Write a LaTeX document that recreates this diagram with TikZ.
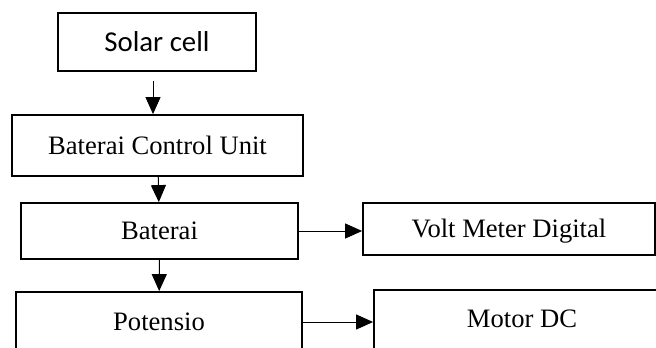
\documentclass[tikz,border=0pt]{standalone}
\usepackage{fontspec}
\setmainfont{Liberation Serif}
\newfontfamily\calibrifont{Carlito}
\usetikzlibrary{arrows.meta}

\begin{document}
\begin{tikzpicture}[x=0.5pt,y=-0.5pt,
		blok/.style={draw,line width=0.9pt,inner sep=0pt,font=\fontsize{13.3}{15}\selectfont},
		panah/.style={line width=0.5pt,-{Triangle[length=8.5pt,width=7.5pt]}}]
				\clip (0,0) rectangle (656,347);
				
				% left column
				\node[blok,minimum width=99pt,minimum height=29pt,font=\calibrifont\fontsize{14.4}{16}\selectfont] (solar) at (157,42) {Solar cell};
				\node[blok,minimum width=145.5pt,minimum height=30.5pt] (bcu) at (157.5,145.5) {Baterai Control Unit};
				\node[blok,minimum width=138.5pt,minimum height=28pt] (bat) at (159.5,231) {Baterai};
				\node[blok,minimum width=143pt,minimum height=30pt] (pot) at (159,322) {Potensio};
				
				% right column
				\node[blok,minimum width=146pt,minimum height=26pt,text height=11pt] (volt) at (509,229) {Volt Meter Digital};
				\node[blok,minimum width=148pt,minimum height=33pt,text depth=4pt] (motor) at (522,323) {Motor DC};
				
				\draw[panah,shorten <=4.5pt] ([xshift=-2pt]solar.south) -- ([xshift=-2pt]solar.south |- bcu.north);
				\foreach \x/\y in
				{bcu/bat, bat/pot}{
					\draw[panah] (\x) -- (\y);
				}
				\foreach \x/\y in
				{bat/volt, pot/motor}{
					\draw[panah] (\x.east) -- (\x.east -| \y.west);
				}
			\end{tikzpicture}
\end{document}
